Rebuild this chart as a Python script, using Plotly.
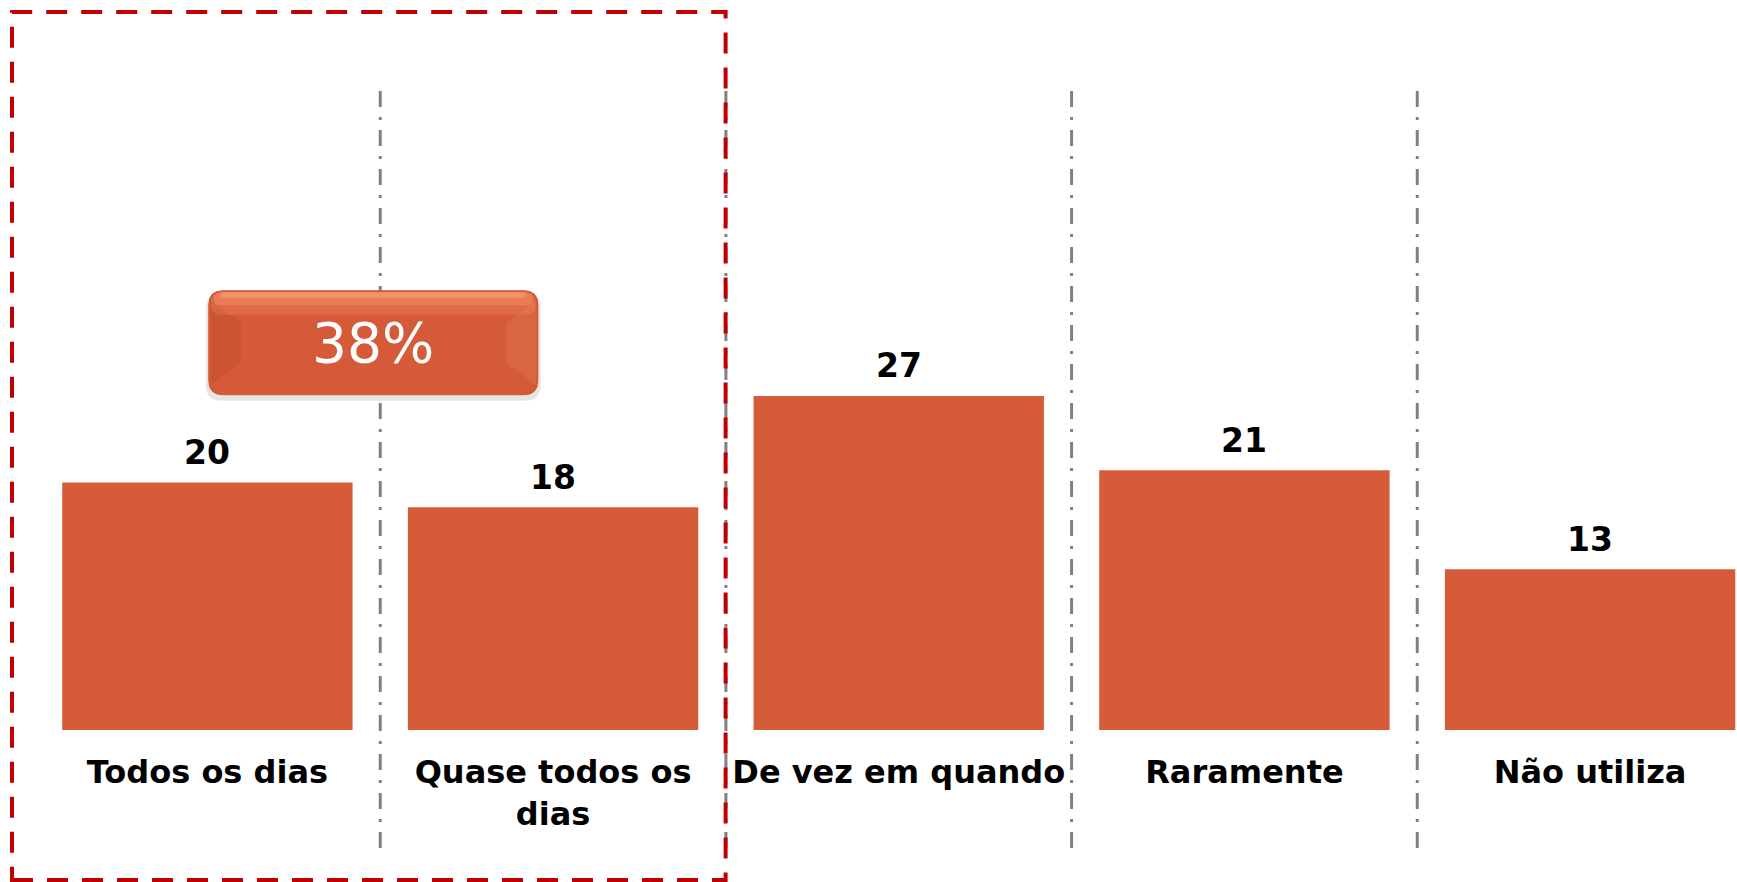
import plotly.graph_objects as go

# data
categories = ['Todos os dias', 'Quase todos os dias', 'De vez em quando', 'Raramente', 'Não utiliza']
tick_labels = ['Todos os dias', 'Quase todos os<br>dias', 'De vez em quando', 'Raramente', 'Não utiliza']
values = [20, 18, 27, 21, 13]
group_total = '38%'

W, H = 1737, 882
MB = 152                 # bottom margin -> baseline at y=730px
PLOT_H = H - MB
BAR_COLOR = '#D65B38'
FONT = 'Verdana, DejaVu Sans, sans-serif'


def ypaper(py):
    """pixel row (from top) -> paper fraction"""
    return (PLOT_H - py) / PLOT_H


def rrect(w, h, r, dx=0, dy=0):
    """rounded rectangle path in pixels centred on the anchor"""
    x0, x1 = -w / 2 + dx, w / 2 + dx
    y0, y1 = -h / 2 + dy, h / 2 + dy
    return (f'M{x0 + r},{y0} L{x1 - r},{y0} Q{x1},{y0} {x1},{y0 + r} '
            f'L{x1},{y1 - r} Q{x1},{y1} {x1 - r},{y1} L{x0 + r},{y1} '
            f'Q{x0},{y1} {x0},{y1 - r} L{x0},{y0 + r} Q{x0},{y0} {x0 + r},{y0} Z')


fig = go.Figure(go.Bar(
    x=categories,
    y=values,
    marker_color=BAR_COLOR,
    marker_line_width=0,
    hoverinfo='x+y',
))

# value labels above bars
for c, v in zip(categories, values):
    fig.add_annotation(x=c, y=v, text=f'<b>{v}</b>', showarrow=False,
                       yanchor='middle', yshift=30,
                       font=dict(family=FONT, size=33, color='black'))

shapes = []
# dash-dot dividers between categories (drawn top -> bottom)
for i in range(len(categories) - 1):
    shapes.append(dict(type='line', xref='x', yref='paper',
                       x0=i + 0.5, x1=i + 0.5, y0=ypaper(91), y1=ypaper(858),
                       line=dict(color='#808080', width=3, dash='16px,10px,3px,10px'),
                       layer='below'))

# red dashed frame around the first two categories
shapes.append(dict(type='rect', xref='paper', yref='paper',
                   x0=12 / W, x1=725.6 / W, y0=ypaper(880), y1=ypaper(12),
                   line=dict(color='#C00000', width=4, dash='21px,14px'),
                   fillcolor='rgba(0,0,0,0)', layer='above'))

# "38%" badge
bx, by = 0.48, 31.3
bw, bh = 329, 104
badge = dict(xref='x', yref='y', xsizemode='pixel', ysizemode='pixel',
             xanchor=bx, yanchor=by, type='path', layer='above')
shapes.append(dict(badge, path=rrect(bw + 6, bh + 4, 16, 0, -4),
                   fillcolor='rgba(0,0,0,0.10)', line=dict(width=0)))
shapes.append(dict(badge, path=rrect(bw, bh, 14),
                   fillcolor='#D55B38', line=dict(color='#CD5631', width=1)))
# left / right bevels
lx = -bw / 2
shapes.append(dict(badge, path=f'M{lx + 2},{bh / 2 - 10} L{lx + 32},{bh / 2 - 32} L{lx + 32},{-bh / 2 + 32} L{lx + 2},{-bh / 2 + 10} Z',
                   fillcolor='rgba(150,50,20,0.15)', line=dict(width=0)))
rx = bw / 2
shapes.append(dict(badge, path=f'M{rx - 2},{bh / 2 - 10} L{rx - 32},{bh / 2 - 32} L{rx - 32},{-bh / 2 + 32} L{rx - 2},{-bh / 2 + 10} Z',
                   fillcolor='rgba(255,200,170,0.10)', line=dict(width=0)))
# top highlight (stepped to mimic a gradient)
shapes.append(dict(badge, path=rrect(bw - 4, 22, 10, 0, bh / 2 - 13),
                   fillcolor='rgba(255,150,110,0.25)', line=dict(width=0)))
shapes.append(dict(badge, path=rrect(bw - 10, 13, 6, 0, bh / 2 - 8),
                   fillcolor='rgba(255,160,120,0.35)', line=dict(width=0)))
shapes.append(dict(badge, path=rrect(bw - 24, 6, 3, 0, bh / 2 - 4),
                   fillcolor='rgba(255,175,135,0.4)', line=dict(width=0)))

fig.add_annotation(x=bx, y=by, text=group_total, showarrow=False,
                   font=dict(family=FONT, size=55, color='white'))

fig.update_layout(
    width=W, height=H,
    margin=dict(l=0, r=0, t=0, b=MB),
    paper_bgcolor='white', plot_bgcolor='white',
    bargap=0.16,
    showlegend=False,
    shapes=shapes,
    xaxis=dict(range=[-0.6, 4.425], tickvals=categories, ticktext=tick_labels,
               ticks='outside', ticklen=14, tickcolor='rgba(0,0,0,0)',
               tickfont=dict(family=FONT, size=32, color='black', weight='bold'),
               showgrid=False, zeroline=False, showline=False, fixedrange=True),
    yaxis=dict(range=[0, 59], visible=False, fixedrange=True),
)

# drop the page's default body margin so the figure sits at the window origin
fig.write_html('out.html', config={'displayModeBar': False},
               post_script="document.body.style.margin='0';")
